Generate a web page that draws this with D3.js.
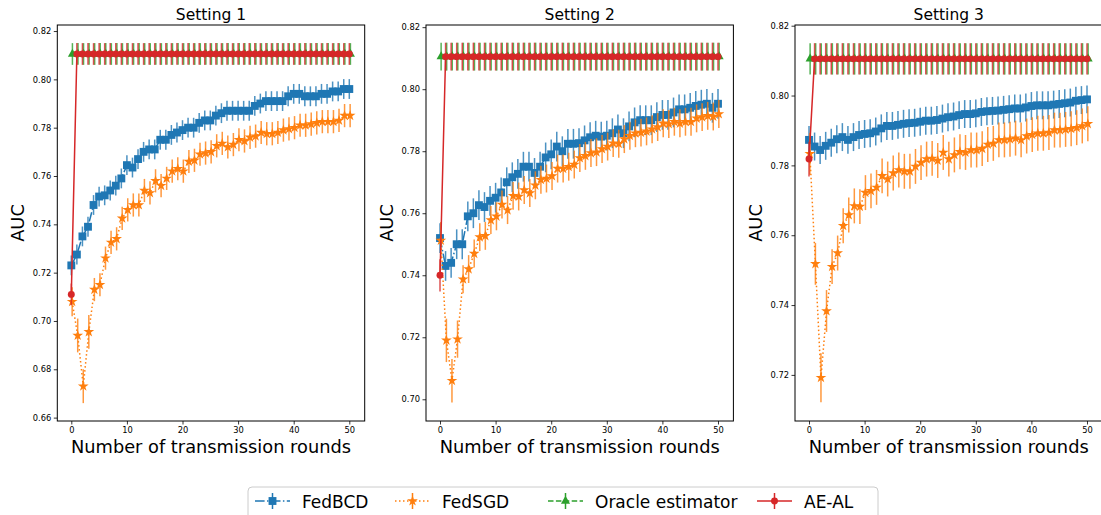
<!DOCTYPE html>
<html>
<head>
<meta charset="utf-8">
<script src="https://cdn.jsdelivr.net/npm/d3@7"></script>
<style>
  body { margin: 0; background: #fff; }
  svg { font-family: 'DejaVu Sans', sans-serif; }
</style>
</head>
<body>
<svg id="chart" width="1101" height="515"></svg>
<script>
const rounds = d3.range(0, 51)
const titles = ['Setting 1', 'Setting 2', 'Setting 3']
const seriesNames = ['FedBCD', 'FedSGD', 'Oracle estimator', 'AE-AL']
const colors = ['#1f77b4', '#ff7f0e', '#2ca02c', '#d62728']

const yTicks1 = [0.66, 0.68, 0.70, 0.72, 0.74, 0.76, 0.78, 0.80, 0.82]
const yTicks2 = [0.70, 0.72, 0.74, 0.76, 0.78, 0.80, 0.82]
const yTicks3 = [0.72, 0.74, 0.76, 0.78, 0.80, 0.82]
const xTicks = [0, 10, 20, 30, 40, 50]

// FedBCD mean AUC per round
const bcd1 = [0.723,0.7275,0.735,0.739,0.748,0.7515,0.752,0.754,0.756,0.759,0.7645,0.7635,0.767,0.770,0.771,0.771,0.775,0.775,0.777,0.778,
  0.779,0.780,0.780,0.782,0.783,0.783,0.785,0.786,0.787,0.787,0.787,0.787,0.787,0.789,0.790,0.791,0.791,0.791,0.791,0.793,
  0.794,0.794,0.793,0.793,0.793,0.794,0.794,0.795,0.795,0.796,0.796]
const bcd2 = [0.752,0.743,0.744,0.750,0.750,0.759,0.760,0.7626,0.762,0.764,0.765,0.7667,0.770,0.7716,0.7727,0.775,0.775,0.773,0.775,0.778,
  0.779,0.7815,0.780,0.7824,0.7824,0.7826,0.7835,0.7845,0.785,0.7847,0.785,0.7858,0.787,0.7858,0.788,0.7893,0.790,0.790,0.790,0.791,
  0.7917,0.7917,0.7925,0.7935,0.7935,0.794,0.7946,0.795,0.7953,0.794,0.7953]
const bcd3 = [0.7873,0.7854,0.7844,0.7856,0.7865,0.7875,0.7881,0.7873,0.7881,0.7887,0.789,0.7892,0.7897,0.7906,0.7913,0.7913,0.7916,0.7919,0.7921,0.7922,
  0.7925,0.7928,0.7928,0.793,0.7934,0.7938,0.794,0.7944,0.7947,0.7947,0.7949,0.7953,0.7955,0.7956,0.7957,0.7959,0.7961,0.7963,0.7963,0.7966,
  0.797,0.7972,0.7972,0.7972,0.7974,0.7976,0.7978,0.798,0.7985,0.7987,0.7989]

// FedSGD mean AUC per round
const sgd1 = [0.708,0.694,0.673,0.6955,0.713,0.715,0.726,0.7325,0.734,0.7425,0.746,0.748,0.748,0.754,0.753,0.758,0.756,0.759,0.762,0.763,
  0.762,0.766,0.7665,0.769,0.7695,0.770,0.7725,0.7735,0.772,0.773,0.775,0.7745,0.776,0.7765,0.778,0.7775,0.7775,0.778,0.779,0.7795,
  0.780,0.781,0.781,0.7815,0.782,0.7825,0.7825,0.7825,0.783,0.785,0.785]
const sgd2 = [0.7512,0.719,0.706,0.7194,0.7387,0.742,0.747,0.7523,0.7527,0.7578,0.759,0.7628,0.761,0.7656,0.7654,0.7675,0.7665,0.769,0.7708,0.7712,
  0.772,0.7744,0.7744,0.775,0.7757,0.7778,0.7785,0.7794,0.7797,0.7807,0.7815,0.7826,0.7824,0.7839,0.785,0.7858,0.786,0.7864,0.7871,0.7878,
  0.789,0.7888,0.7895,0.789,0.7895,0.7895,0.7906,0.791,0.7914,0.7912,0.792]
const sgd3 = [0.7833,0.7518,0.7192,0.7383,0.751,0.7549,0.7627,0.7658,0.7684,0.7682,0.7722,0.7727,0.7737,0.777,0.7761,0.7778,0.7787,0.7783,0.7783,0.7797,
  0.7808,0.7818,0.782,0.7814,0.7837,0.7818,0.783,0.7839,0.7837,0.7844,0.7844,0.7848,0.786,0.7863,0.7873,0.7873,0.7875,0.7878,0.7873,0.7884,
  0.7888,0.7892,0.7892,0.7894,0.7901,0.7901,0.7903,0.7905,0.7908,0.7913,0.7919]

// oracle and AE-AL
const oracleAuc = [0.8105, 0.8105, 0.8105]
const aealStart = [0.711, 0.740, 0.7818]
const aealLevel = [0.8105, 0.8105, 0.8105]

// error bar half widths
const bcdErr = [0.0041, 0.0048, 0.004]
const sgdErrHead = [[0.006,0.007,0.007,0.007], [0.006,0.007,0.007,0.006], [0.006,0.006,0.007,0.006]]
const sgdErrTail = [0.0048, 0.0045, 0.005]
const oracleErr = 0.0045
const aealErr = [0.0045, 0.0052, 0.005]

const panels = [
  {title: titles[0], bcd: bcd1, sgd: sgd1, yDomain: [0.6586, 0.8225], ticks: yTicks1},
  {title: titles[1], bcd: bcd2, sgd: sgd2, yDomain: [0.6930, 0.8207], ticks: yTicks2},
  {title: titles[2], bcd: bcd3, sgd: sgd3, yDomain: [0.7068, 0.8202], ticks: yTicks3}
]

const svg = d3.select('#chart')
const lefts = [57.3, 426, 795]
const pw = 307.4
const plotTop = 25, plotBottom = 421

const symSquare = d3.symbol().type(d3.symbolSquare).size(62)
const symStar = d3.symbol().type(d3.symbolStar).size(36)
const symTri = d3.symbol().type(d3.symbolTriangle).size(36)
const symCircle = d3.symbol().type(d3.symbolCircle).size(38)

const drawSeries = (g, pts, xScale, yScale, color, dash, sym) => {
  const line = d3.line().x(d => xScale(d.x)).y(d => yScale(d.y))
  // error bars
  g.append('g').selectAll('line')
    .data(pts).enter().append('line')
    .attr('x1', d => xScale(d.x)).attr('x2', d => xScale(d.x))
    .attr('y1', d => yScale(d.y - d.e)).attr('y2', d => yScale(d.y + d.e))
    .attr('stroke', color).attr('stroke-width', 1.5).attr('opacity', 0.8)
  g.append('path').datum(pts)
    .attr('d', line)
    .attr('fill', 'none').attr('stroke', color).attr('stroke-width', 1.5)
    .attr('stroke-dasharray', dash)
  g.append('g').selectAll('path')
    .data(pts).enter().append('path')
    .attr('d', sym)
    .attr('transform', d => `translate(${xScale(d.x)},${yScale(d.y)})`)
    .attr('fill', color)
}

panels.forEach((p, i) => {
  const xScale = d3.scaleLinear().domain([-2.52, 52.77]).range([lefts[i], lefts[i] + pw])
  const yScale = d3.scaleLinear().domain(p.yDomain).range([plotBottom, plotTop])
  const g = svg.append('g')

  const bcdPts = rounds.map(r => ({x: r, y: p.bcd[r], e: bcdErr[i]}))
  const sgdPts = rounds.map(r => ({x: r + 0.15, y: p.sgd[r], e: r < 4 ? sgdErrHead[i][r] : sgdErrTail[i]}))
  const oraclePts = rounds.map(r => ({x: r + 0.2, y: oracleAuc[i], e: oracleErr}))
  const aealPts = rounds.map(r => ({x: r, y: r == 0 ? aealStart[i] : aealLevel[i], e: r == 0 ? aealErr[i] : oracleErr}))

  drawSeries(g, bcdPts, xScale, yScale, colors[0], '9.6,2.4,1.5,2.4', symSquare)
  drawSeries(g, sgdPts, xScale, yScale, colors[1], '1.5,2.5', symStar)
  drawSeries(g, oraclePts, xScale, yScale, colors[2], '5.5,2.4', symTri)
  drawSeries(g, aealPts, xScale, yScale, colors[3], null, symCircle)

  // axes
  const xAxis = g.append('g').attr('transform', `translate(0,${plotBottom})`)
    .call(d3.axisBottom(xScale).tickValues(xTicks).tickSize(3.5).tickPadding(2.5))
  const yAxis = g.append('g').attr('transform', `translate(${lefts[i]},0)`)
    .call(d3.axisLeft(yScale).tickValues(p.ticks).tickFormat(d3.format('.2f')).tickSize(3.5).tickPadding(2.5))
  ;[xAxis, yAxis].forEach(a => {
    a.select('.domain').remove()
    a.selectAll('text').attr('font-size', 8.3).attr('fill', '#000').attr('font-family', 'DejaVu Sans')
    a.selectAll('line').attr('stroke', '#000').attr('stroke-width', 0.8)
  })

  g.append('rect')
    .attr('x', lefts[i]).attr('y', plotTop).attr('width', pw).attr('height', plotBottom - plotTop)
    .attr('fill', 'none').attr('stroke', '#000').attr('stroke-width', 1)

  g.append('text')
    .attr('text-anchor', 'middle')
    .attr('x', lefts[i] + pw / 2).attr('y', 20)
    .attr('font-size', 15.5)
    .text(p.title)

  g.append('text')
    .attr('text-anchor', 'middle')
    .attr('x', lefts[i] + pw / 2).attr('y', 453)
    .attr('font-size', 17.8)
    .text('Number of transmission rounds')

  g.append('text')
    .attr('text-anchor', 'middle')
    .attr('transform', `translate(${lefts[i] - 33},${(plotTop + plotBottom) / 2}) rotate(-90)`)
    .attr('font-size', 17.8)
    .text('AUC')
})

// legend
const legend = svg.append('g')
legend.append('rect')
  .attr('x', 248).attr('y', 487).attr('width', 630).attr('height', 40)
  .attr('rx', 4).attr('fill', '#fff').attr('stroke', '#cccccc').attr('stroke-width', 1)

const legX = [255, 395, 548, 757]
const legDash = ['9.6,2.4,1.5,2.4', '1.5,2.5', '5.5,2.4', null]
const legSym = [symSquare, symStar, symTri, symCircle]
seriesNames.forEach((name, k) => {
  const lg = legend.append('g').attr('transform', `translate(${legX[k]},501)`)
  lg.append('line').attr('x1', 0).attr('x2', 35).attr('y1', 0).attr('y2', 0)
    .attr('stroke', colors[k]).attr('stroke-width', 1.5).attr('stroke-dasharray', legDash[k])
  lg.append('line').attr('x1', 17.5).attr('x2', 17.5).attr('y1', -8).attr('y2', 8)
    .attr('stroke', colors[k]).attr('stroke-width', 1.5)
  lg.append('path').attr('d', legSym[k]).attr('transform', 'translate(17.5,0)').attr('fill', colors[k])
  lg.append('text').attr('x', 47).attr('y', 6.5).attr('font-size', 17).text(name)
})
</script>
</body>
</html>
